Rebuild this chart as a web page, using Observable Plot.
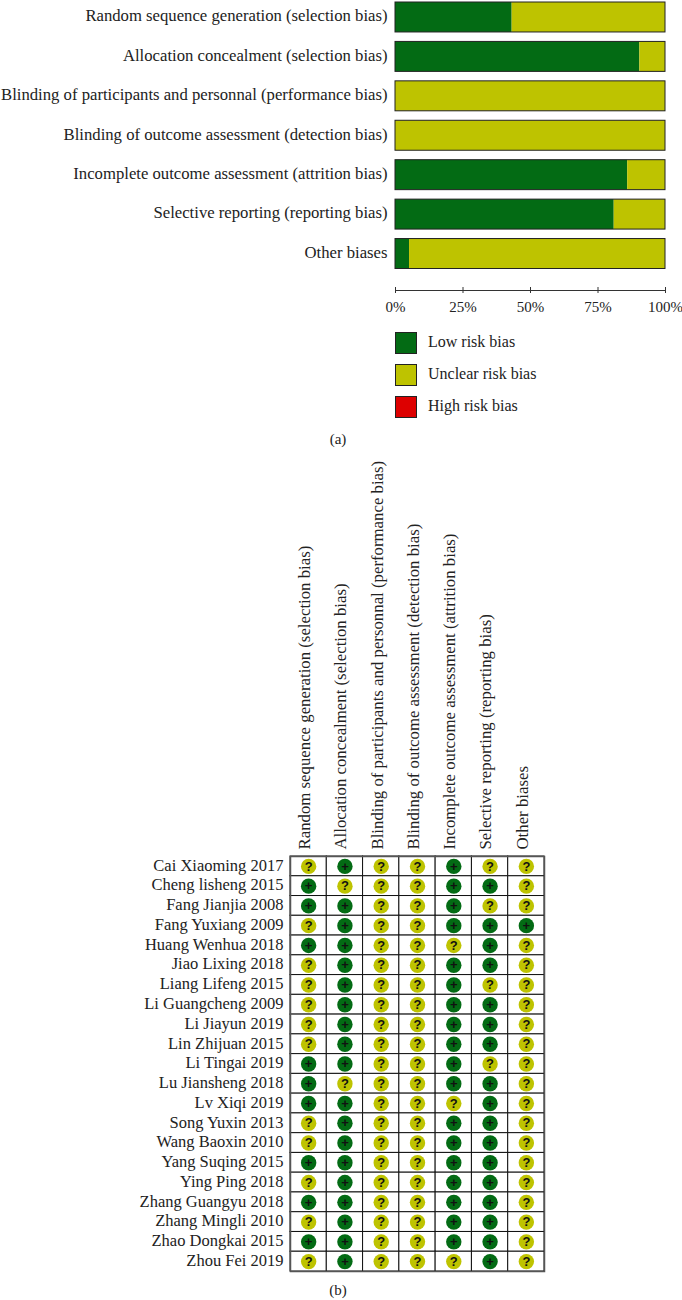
<!DOCTYPE html>
<html>
<head>
<meta charset="utf-8">
<script src="https://cdn.jsdelivr.net/npm/d3@7"></script>
<script src="https://cdn.jsdelivr.net/npm/@observablehq/plot@0.6"></script>
<style>
html,body{margin:0;padding:0;background:#fff;}
body{width:682px;height:1300px;overflow:hidden;font-family:"Liberation Serif",serif;color:#222;}
svg{display:block;}
.legend{height:96px;padding:10px 0 0 395px;box-sizing:content-box;}
.row{display:flex;align-items:center;height:22px;margin-bottom:10px;font-size:16px;position:relative;top:-1px;}
.sw{border:1px solid #222;box-sizing:content-box;margin-right:11px;width:20px;height:20px;position:relative;top:1px;}
.cap{text-align:center;font-size:15px;width:676px;}
</style>
</head>
<body>
<div id="a"></div>
<div id="legend" class="legend"></div>
<div id="capA" class="cap" style="height:22px;line-height:22px;">(a)</div>
<div id="b"></div>
<div id="capB" class="cap" style="line-height:20px;height:20px">(b)</div>
<script>
const domains = [
  "Random sequence generation (selection bias)",
  "Allocation concealment (selection bias)",
  "Blinding of participants and personnal (performance bias)",
  "Blinding of outcome assessment (detection bias)",
  "Incomplete outcome assessment (attrition bias)",
  "Selective reporting (reporting bias)",
  "Other biases"
];
const lowPercent = [43.2, 90.5, 0, 0, 86, 81, 5.2];
const unclearPercent = [56.8, 9.5, 100, 100, 14, 19, 94.8];
const xTicks = [0, 25, 50, 75, 100];
const levels = ["Low risk bias", "Unclear risk bias", "High risk bias"];
const levelColors = ["#036b14", "#bec300", "#dd0000"];
const studies = ["Cai Xiaoming 2017","Cheng lisheng 2015","Fang Jianjia 2008","Fang Yuxiang 2009","Huang Wenhua 2018","Jiao Lixing 2018","Liang Lifeng 2015","Li Guangcheng 2009","Li Jiayun 2019","Lin Zhijuan 2015","Li Tingai 2019","Lu Jiansheng 2018","Lv Xiqi 2019","Song Yuxin 2013","Wang Baoxin 2010","Yang Suqing 2015","Ying Ping 2018","Zhang Guangyu 2018","Zhang Mingli 2010","Zhao Dongkai 2015","Zhou Fei 2019"];
const judgements = [
  "?+??+??","+???++?","++??+??","?+??+++","++???+?","?+??++?","?+??+??",
  "?+??++?","?+??++?","?+??++?","++??+??","+???++?","++???+?","?+??++?",
  "?+??++?","++??++?","?+??++?","++??++?","?+??++?","++??++?","?+???+?"
];

const stacks = domains.flatMap((d, i) => [
  {domain: d, level: levels[0], x1: 0, x2: lowPercent[i]},
  {domain: d, level: levels[1], x1: lowPercent[i], x2: lowPercent[i] + unclearPercent[i]}
]);
const color = {domain: levels, range: levelColors};

document.getElementById("a").append(Plot.plot({
  width: 682, height: 322,
  marginLeft: 395, marginRight: 17, marginTop: 0, marginBottom: 32,
  style: {fontFamily: "Liberation Serif, serif", color: "#222", background: "#fff"},
  x: {domain: [0, 100]},
  y: {domain: domains, range: [2, 268.5], paddingInner: 0.24, paddingOuter: 0, round: false},
  color,
  marks: [
    Plot.barX(stacks, {y: "domain", x1: "x1", x2: "x2", fill: "level"}),
    Plot.barX(domains.map(d => ({domain: d})), {y: "domain", x1: () => 0, x2: () => 100, fill: "none", stroke: "#222", strokeWidth: 1}),
    Plot.frame({anchor: "bottom", stroke: "#333", strokeWidth: 1}),
    Plot.axisX({ticks: xTicks, tickFormat: d => d + "%", tickSize: 6, dy: -3, tickPadding: 8, fontSize: 15, label: null, stroke: "#333"}),
    Plot.axisY({tickSize: 0, tickPadding: 8, fontSize: 16.7, dy: -1.5, label: null})
  ]
}));

const leg = document.getElementById("legend");
levels.forEach((l, i) => {
  const r = document.createElement("div"); r.className = "row";
  const s = document.createElement("div"); s.className = "sw"; s.style.background = levelColors[i];
  const t = document.createElement("span"); t.textContent = l;
  r.append(s, t); leg.append(r);
});

const cells = studies.flatMap((s, r) => domains.map((d, c) => {
  const j = judgements[r][c];
  return {study: s, domain: d, sym: j, level: j === "+" ? levels[0] : levels[1]};
}));

document.getElementById("b").append(Plot.plot({
  width: 682, height: 830,
  marginLeft: 290, marginRight: 138, marginTop: 406, marginBottom: 9,
  style: {fontFamily: "Liberation Serif, serif", color: "#222", background: "#fff"},
  x: {domain: domains, padding: 0, round: false},
  y: {domain: studies, padding: 0, round: false},
  color,
  marks: [
    Plot.cell(cells, {x: "domain", y: "study", fill: "#fff", stroke: "#111", strokeWidth: 1}),
    Plot.frame({stroke: "#555", strokeWidth: 1.5}),
    Plot.dot(cells, {x: "domain", y: "study", r: 7.7, fill: "level"}),
    Plot.text(cells, {x: "domain", y: "study", text: "sym", fill: "#111", fontWeight: "bold", fontSize: 13, fontFamily: "Liberation Sans, sans-serif"}),
    Plot.axisX({anchor: "top", tickRotate: -90, tickSize: 0, tickPadding: 7, dx: -4, fontSize: 16.8, label: null}),
    Plot.axisY({tickSize: 0, tickPadding: 7, fontSize: 16.5, dy: -1, label: null})
  ]
}));
</script>
</body>
</html>
